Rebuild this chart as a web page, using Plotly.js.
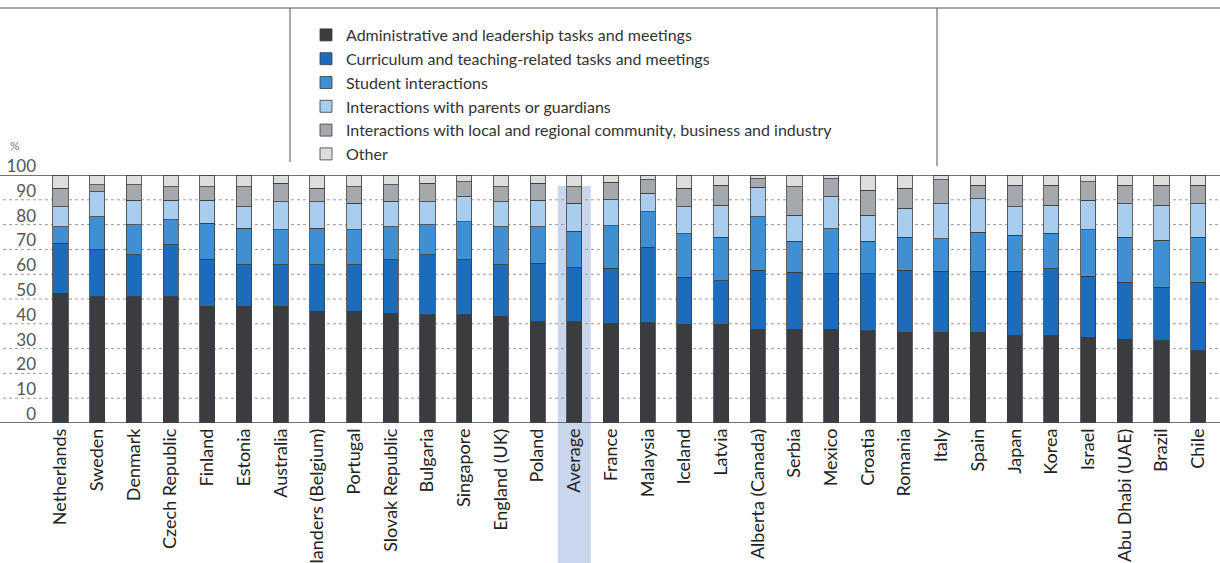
<!DOCTYPE html>
<html>
<head>
<meta charset="utf-8">
<script src="https://cdn.plot.ly/plotly-3.0.1.min.js"></script>
<style>html,body{margin:0;padding:0;background:#fff;}#chart{width:1220px;height:563px;}</style>
</head>
<body>
<div id="chart"></div>
<script>
const countries = ["Netherlands","Sweden","Denmark","Czech Republic","Finland","Estonia","Australia","Flanders (Belgium)","Portugal","Slovak Republic","Bulgaria","Singapore","England (UK)","Poland","Average","France","Malaysia","Iceland","Latvia","Alberta (Canada)","Serbia","Mexico","Croatia","Romania","Italy","Spain","Japan","Korea","Israel","Abu Dhabi (UAE)","Brazil","Chile"];
const administrative = [52.3,51.0,51.0,51.0,47.0,47.0,47.0,45.0,45.0,44.3,43.6,43.6,43.0,40.9,40.9,40.0,40.5,39.9,39.9,37.8,37.8,37.8,37.2,36.5,36.5,36.5,35.1,35.1,34.5,33.8,33.1,29.1];
const curriculum = [20.2,18.8,16.8,20.8,19.0,16.8,16.8,18.8,18.8,21.5,24.2,22.2,20.8,23.5,21.8,22.5,30.4,18.9,17.5,23.7,23.0,22.3,22.9,25.0,24.7,24.7,26.1,27.1,24.6,23.0,21.6,27.7];
const students = [6.7,13.4,12.1,10.1,14.5,14.7,14.1,14.7,14.1,13.4,12.1,15.4,15.4,14.8,14.7,17.0,14.2,17.6,17.6,21.6,12.4,18.3,13.1,13.5,13.1,15.8,14.5,14.4,18.9,18.2,18.9,18.2];
const parents = [8.0,10.1,10.0,8.0,9.4,8.7,11.4,10.8,10.7,10.3,9.4,10.1,10.1,10.7,11.2,10.5,7.5,10.8,12.8,12.0,10.6,12.8,10.6,11.5,14.2,13.5,11.5,11.2,11.9,13.5,14.2,13.5];
const community = [7.4,2.7,6.1,5.4,5.4,8.1,7.3,5.3,6.7,6.5,7.3,6.0,6.0,6.7,6.7,7.0,5.4,7.4,8.1,3.4,11.5,7.2,10.1,8.1,9.5,5.4,8.7,8.1,7.4,7.4,8.1,7.4];
const other = [5.4,4.0,4.0,4.7,4.7,4.7,3.4,5.4,4.7,4.0,3.4,2.7,4.7,3.4,4.7,3.0,2.0,5.4,4.1,1.5,4.7,1.6,6.1,5.4,2.0,4.1,4.1,4.1,2.7,4.1,4.1,4.1];
const seriesNames = ["Administrative and leadership tasks and meetings","Curriculum and teaching-related tasks and meetings","Student interactions","Interactions with parents or guardians","Interactions with local and regional community, business and industry","Other"];
const seriesColors = ["#3a3c3f","#1d6cbc","#3f8fd2","#a9cdef","#a5a8ad","#dddddd"];
const yTicks = [0,10,20,30,40,50,60,70,80,90,100];
const highlightCategory = "Average";

const seriesValues = [administrative, curriculum, students, parents, community, other];
const traces = seriesValues.map((vals, i) => ({
  type: 'bar', x: countries, y: vals, name: seriesNames[i],
  marker: {color: seriesColors[i], line: {color: '#3c3c3c', width: 0.8}},
  width: 0.41, hoverinfo: 'x+y+name'
}));

// plot area: left 42px, right 1220px, top 175px, bottom 423px
const L = 42, W = 1178, T = 175, H = 248;
const px = x => (x - L) / W;
const py = y => (T + H - y) / H;

const shapes = [];
const hi = countries.indexOf(highlightCategory);
shapes.push({type:'rect', xref:'x', yref:'paper', x0: hi - 0.45, x1: hi + 0.45, y0: py(563), y1: py(186), fillcolor:'#c9d6ec', line:{width:0}, layer:'below'});
yTicks.filter(v => v > 0 && v < 100).forEach(v => shapes.push({type:'line', xref:'paper', yref:'y', x0: px(3), x1: 1, y0: v, y1: v, line:{color:'#9a9a9a', width:1, dash:'dot'}, layer:'below'}));
[0, 100].forEach(v => shapes.push({type:'line', xref:'paper', yref:'y', x0: px(0), x1: px(1220), y0: v, y1: v, line:{color:'#444', width:1.3}, layer:'above'}));
shapes.push({type:'line', xref:'paper', yref:'paper', x0: px(0), x1: px(1220), y0: py(8), y1: py(8), line:{color:'#555', width:1.2}});
shapes.push({type:'line', xref:'paper', yref:'paper', x0: px(290), x1: px(290), y0: py(8), y1: py(162), line:{color:'#555', width:1}});
shapes.push({type:'line', xref:'paper', yref:'paper', x0: px(937), x1: px(937), y0: py(8), y1: py(166), line:{color:'#555', width:1}});

const layout = {
  width: 1220, height: 563,
  margin: {l: L, r: 0, t: T, b: 563 - T - H, pad: 0},
  paper_bgcolor: '#fff', plot_bgcolor: 'rgba(0,0,0,0)',
  barmode: 'stack',
  showlegend: true,
  legend: {x: px(306), y: py(18), xanchor: 'left', yanchor: 'top', traceorder: 'normal',
    font: {family: 'Lato, sans-serif', size: 16, color: '#333'}, bgcolor: 'rgba(0,0,0,0)', tracegroupgap: 0, itemwidth: 30},
  xaxis: {type: 'category', categoryorder: 'array', categoryarray: countries,
    range: [-(60.5 - L) / 36.7, -(60.5 - L) / 36.7 + W / 36.7],
    tickangle: -90, ticks: '', showline: false, showgrid: false, zeroline: false,
    tickfont: {family: 'Lato, sans-serif', size: 18, color: '#222'}, ticklabelstandoff: 1},
  yaxis: {range: [0, 100], tickvals: yTicks, ticktext: yTicks.map(String), showgrid: false, zeroline: false, showline: false, ticks: '',
    tickfont: {family: 'Lato, sans-serif', size: 17, color: '#555'}, ticklabelshift: -9, ticklabelstandoff: 5},
  shapes: shapes,
  annotations: [{xref:'paper', yref:'paper', x: px(8), y: py(145), xanchor:'left', yanchor:'middle', text:'%', showarrow:false, font:{family:'Lato, sans-serif', size:12, color:'#777'}}],
  font: {family: 'Lato, sans-serif'}
};

Plotly.newPlot('chart', traces, layout, {displayModeBar: false, staticPlot: true});
</script>
</body>
</html>
